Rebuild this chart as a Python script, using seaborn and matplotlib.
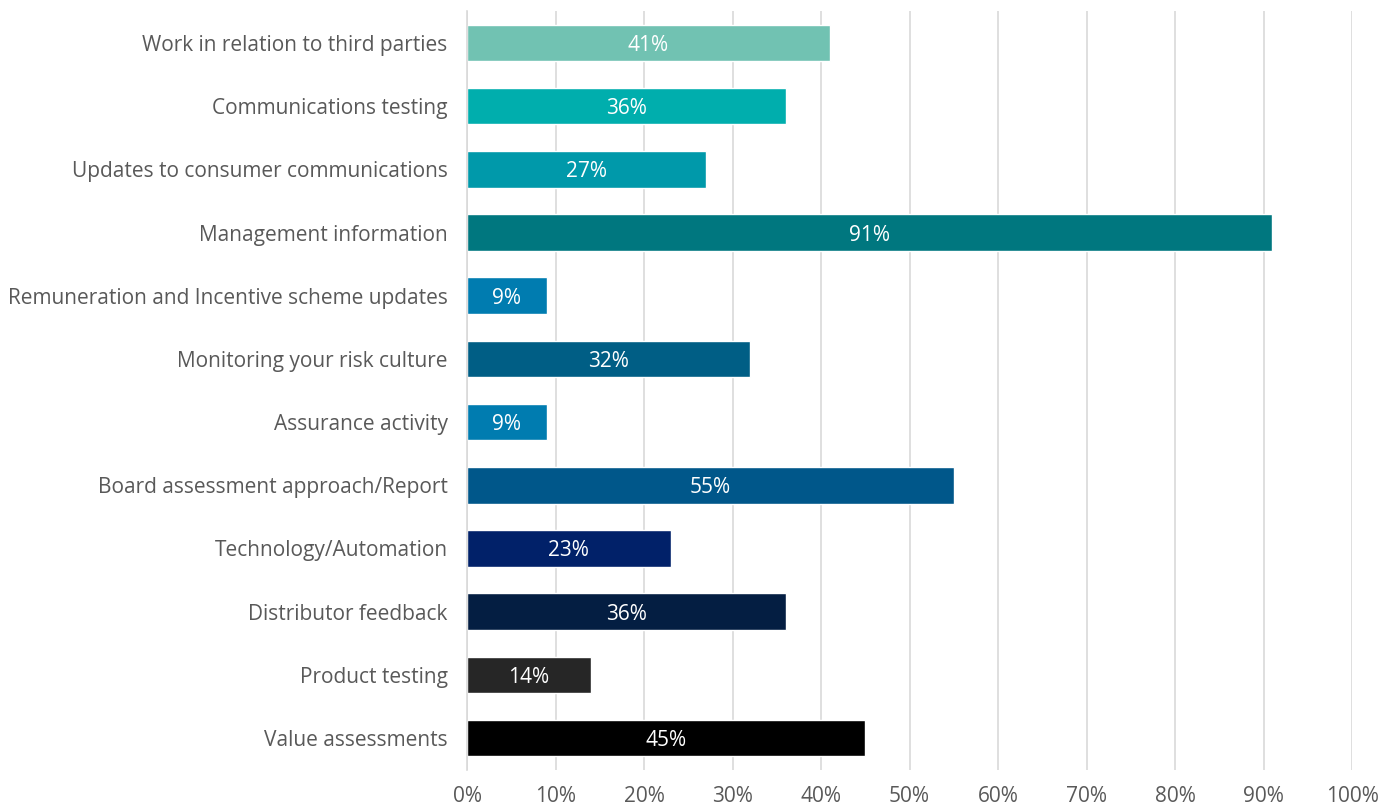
import matplotlib
matplotlib.use("Agg")
import matplotlib.pyplot as plt
import seaborn as sns
import pandas as pd
from matplotlib.ticker import FuncFormatter, MultipleLocator

categories = [
    "Work in relation to third parties",
    "Communications testing",
    "Updates to consumer communications",
    "Management information",
    "Remuneration and Incentive scheme updates",
    "Monitoring your risk culture",
    "Assurance activity",
    "Board assessment approach/Report",
    "Technology/Automation",
    "Distributor feedback",
    "Product testing",
    "Value assessments",
]
values = [41, 36, 27, 91, 9, 32, 9, 55, 23, 36, 14, 45]
colors = [
    "#71c2b2", "#00aead", "#0099aa", "#00777f", "#007cb0", "#005e85",
    "#007cb0", "#00578a", "#012169", "#041e42", "#262626", "#000000",
]

df = pd.DataFrame({"category": categories, "value": values})

sns.set_theme(style="white")
plt.rcParams["font.family"] = ["Open Sans", "DejaVu Sans"]

fig = plt.figure(figsize=(13.95, 8.07), dpi=100)
ax = fig.add_axes([0.3348, 0.0463, 0.6344, 0.9396])

sns.barplot(
    data=df, x="value", y="category", hue="category", palette=colors,
    orient="h", width=0.58, legend=False, ax=ax, saturation=1,
)

ax.set_xlim(0, 100)
ax.set_ylim(11.5, -0.5)
ax.xaxis.set_major_locator(MultipleLocator(10))
ax.xaxis.set_major_formatter(FuncFormatter(lambda v, _: f"{v:.0f}%"))
ax.grid(axis="x", color="#d9d9d9", linewidth=1.2)
ax.set_axisbelow(True)
for side in ["top", "right", "bottom"]:
    ax.spines[side].set_visible(False)
ax.spines["left"].set_color("#d9d9d9")
ax.spines["left"].set_linewidth(1.2)
ax.set_xlabel("")
ax.set_ylabel("")
ax.tick_params(axis="y", length=0, pad=14, labelsize=15, labelcolor="#595959")
ax.tick_params(axis="x", length=0, pad=12, labelsize=15, labelcolor="#595959")

for container in ax.containers:
    texts = ax.bar_label(container, labels=[f"{w:.0f}%" for w in container.datavalues],
                         label_type="center", color="white", fontsize=15)
    for t in texts:
        t.set_verticalalignment("center_baseline")

fig.savefig("out.png", dpi=100)
